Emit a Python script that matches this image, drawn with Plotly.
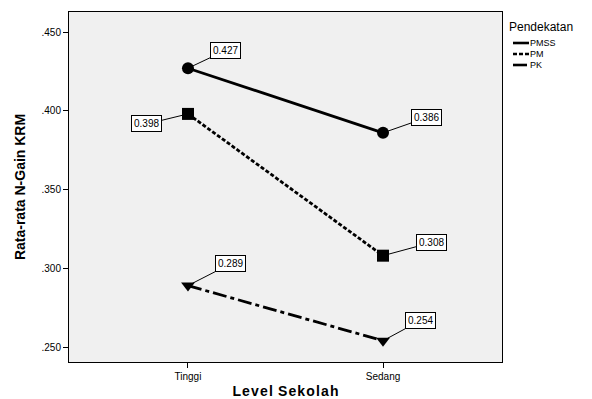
import plotly.graph_objects as go

categories = ["Tinggi", "Sedang"]
pmss = [0.427, 0.386]
pm = [0.398, 0.308]
pk = [0.289, 0.254]
series_names = ["PMSS", "PM", "PK"]
legend_title = "Pendekatan"
ytick_vals = [0.25, 0.30, 0.35, 0.40, 0.45]
ytick_text = [".250", ".300", ".350", ".400", ".450"]

x_idx = [0, 1]
FONT = "Liberation Sans, Arial, sans-serif"
W, H = 592, 399
PL, PR, PT, PB = 69, 502, 12, 362  # plot area edges in pixels

fig = go.Figure()
styles = [
    dict(dash="solid", symbol="circle"),
    dict(dash="4px,2px", symbol="square"),
    dict(dash="14px,4px,4px,4px", symbol="triangle-down"),
]
data = [pmss, pm, pk]
for name, vals, st in zip(series_names, data, styles):
    fig.add_trace(go.Scatter(
        x=x_idx, y=vals, mode="lines+markers", showlegend=False, name=name,
        line=dict(color="black", width=2.8, dash=st["dash"]),
        marker=dict(color="black", size=12, symbol=st["symbol"]),
    ))

# label offsets (pixels) for each point
offsets = {
    "PMSS": [(38, -18), (43, -15)],
    "PM": [(-41, 10), (48, -13)],
    "PK": [(43, -22), (37, -20)],
}
for name, vals in zip(series_names, data):
    for i, v in enumerate(vals):
        ax, ay = offsets[name][i]
        fig.add_annotation(
            x=x_idx[i], y=v, text=f"{v:.3f}", showarrow=True,
            arrowhead=0, arrowwidth=1, arrowcolor="black",
            ax=ax, ay=ay, standoff=5,
            bgcolor="white", bordercolor="black", borderwidth=1, borderpad=2,
            font=dict(family=FONT, size=10, color="black"),
        )

# manual legend (compact, like the SPSS output); paper coords are relative to plot area
def px_x(p):
    return (p - PL) / (PR - PL)
def px_y(p):
    return (PB - p) / (PB - PT)

fig.add_annotation(
    xref="paper", yref="paper", x=px_x(507), y=px_y(27), xanchor="left", yanchor="middle",
    text=legend_title, showarrow=False, font=dict(family=FONT, size=12, color="black"),
)
for k, (name, st) in enumerate(zip(series_names, styles)):
    yy = 43 + k * 11
    fig.add_shape(
        type="line", xref="paper", yref="paper",
        x0=px_x(513), x1=px_x(529), y0=px_y(yy), y1=px_y(yy),
        line=dict(color="black", width=2.6, dash=st["dash"]),
    )
    fig.add_annotation(
        xref="paper", yref="paper", x=px_x(528), y=px_y(yy), xanchor="left", yanchor="middle",
        text=name, showarrow=False, font=dict(family=FONT, size=9, color="black"),
    )

fig.update_layout(
    width=W, height=H,
    margin=dict(l=PL, r=W - PR, t=PT, b=H - PB, autoexpand=False),
    paper_bgcolor="white", plot_bgcolor="#f0f0f0",
    font=dict(family=FONT, color="black"),
    showlegend=False,
)
fig.update_xaxes(
    range=[-0.61, 1.61], tickvals=x_idx, ticktext=categories,
    ticks="outside", ticklen=5, tickcolor="black",
    showline=True, linecolor="black", linewidth=1, mirror=True,
    showgrid=False, zeroline=False, automargin=False,
    tickfont=dict(size=10, family=FONT),
    title=dict(text="<b>L e v e l&nbsp; S e k o l a h</b>".replace(" ", "\u200a"),
               font=dict(size=14, family=FONT), standoff=10),
)
fig.update_yaxes(
    range=[0.2405, 0.4627], tickvals=ytick_vals, ticktext=ytick_text,
    ticks="outside", ticklen=5, tickcolor="black",
    showline=True, linecolor="black", linewidth=1, mirror=True,
    showgrid=False, zeroline=False, automargin=False,
    tickfont=dict(size=10, family=FONT),
    title=dict(text="<b>Rata-rata N-Gain KRM</b>", font=dict(size=14, family=FONT), standoff=12),
)

fig.write_html(
    "out.html",
    config={"displayModeBar": False},
    post_script="document.body.style.margin='0';document.body.style.overflow='hidden';",
)
